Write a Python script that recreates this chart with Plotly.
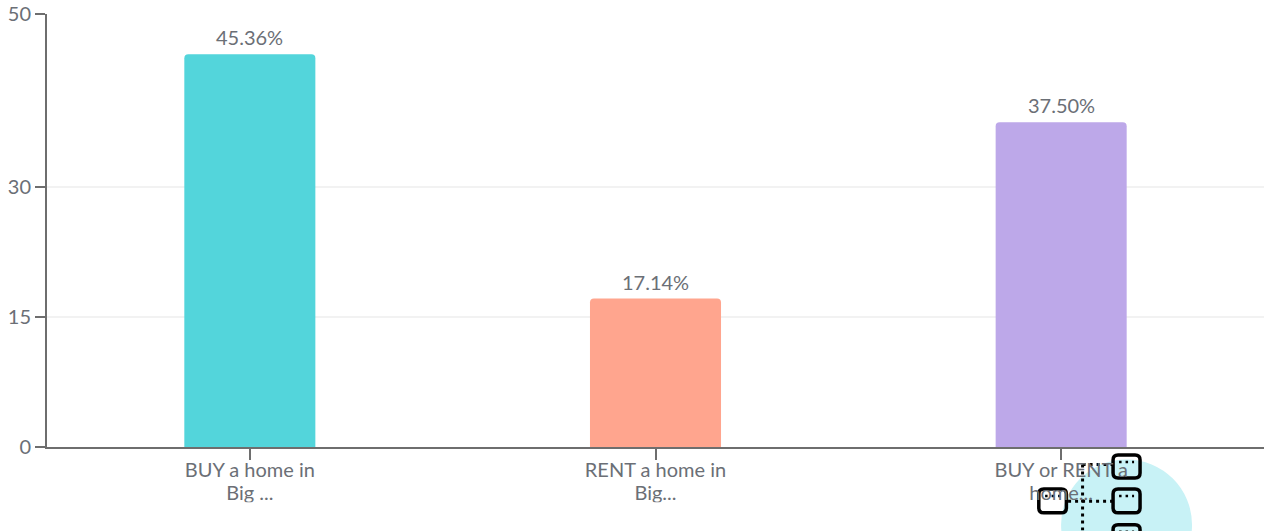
import plotly.graph_objects as go

categories = ["BUY a home in<br>Big ...", "RENT a home in<br>Big...", "BUY or RENT a<br>home..."]
values = [45.36, 17.14, 37.50]
labels = ["45.36%", "17.14%", "37.50%"]
colors = ["#53D5DB", "#FFA58E", "#BDA8E9"]
y_ticks = [0, 15, 30, 50]

W, H = 1276, 531
L, R, T, B = 46.5, 12, 13.5, 83.5
TEXT = "#6B6F76"
AXIS = "#6E6E6E"
FONT = "Lato"


def px(x):
    return (x - L) / (W - L - R)


def py(y):
    return 1 - (y - T) / (H - T - B)


def rounded(x0, y0, x1, y1, r=5):
    pts = [
        ("M", x0 + r, y0), ("L", x1 - r, y0), ("Q", x1, y0, x1, y0 + r),
        ("L", x1, y1 - r), ("Q", x1, y1, x1 - r, y1), ("L", x0 + r, y1),
        ("Q", x0, y1, x0, y1 - r), ("L", x0, y0 + r), ("Q", x0, y0, x0 + r, y0),
    ]
    out = []
    for p in pts:
        coords = p[1:]
        seg = []
        for i in range(0, len(coords), 2):
            seg.append(f"{px(coords[i]):.5f},{py(coords[i + 1]):.5f}")
        out.append(p[0] + " ".join(seg))
    return " ".join(out) + " Z"


fig = go.Figure(go.Bar(
    x=categories, y=values, marker=dict(color=colors, line_width=0),
    cliponaxis=False, hoverinfo="skip",
))

shapes = []
# crop below the category labels of the first two bars
shapes.append(dict(type="rect", xref="paper", yref="paper", x0=px(150), x1=px(800),
                   y0=py(503), y1=py(H), fillcolor="white", line_width=0, layer="above"))
# circle
shapes.append(dict(type="circle", xref="paper", yref="paper", x0=px(1061), x1=px(1192),
                   y0=py(460), y1=py(591), fillcolor="#C8F2F6", line_width=0, layer="below"))
# dotted connectors
for (a, b, c, d) in [(1082.5, 465, 1082.5, 531), (1068, 502, 1112, 502), (1082.5, 465, 1112, 465)]:
    shapes.append(dict(type="line", xref="paper", yref="paper", x0=px(a), y0=py(b), x1=px(c), y1=py(d),
                       line=dict(color="black", width=3, dash="3px,4px"), layer="below"))
# boxes
for (x0, y0, x1, y1) in [(1113, 455.5, 1140, 478.5), (1113, 489.5, 1140, 513.5),
                         (1113, 525.5, 1140, 549), (1038.7, 489.5, 1066.3, 513.5)]:
    shapes.append(dict(type="path", xref="paper", yref="paper", path=rounded(x0, y0, x1, y1),
                       fillcolor="rgba(0,0,0,0)", line=dict(color="black", width=3.5), layer="below"))
    cx = (x0 + x1) / 2
    shapes.append(dict(type="line", xref="paper", yref="paper", x0=px(cx - 7.5), x1=px(cx + 7.5),
                       y0=py(y0 + 7), y1=py(y0 + 7),
                       line=dict(color="black", width=2.5, dash="2.5px,4px"), layer="below"))

annotations = [
    dict(x=c, y=v, text=t, xref="x", yref="y", showarrow=False, yanchor="bottom", yshift=3,
         font=dict(family=FONT, size=20, color=TEXT))
    for c, v, t in zip(categories, values, labels)
]

tick_text = ["<br>".join(f'<span style="font-size:20px">{ln}</span>' for ln in c.split("<br>")) for c in categories]

fig.update_layout(
    width=W, height=H, margin=dict(l=L, r=R, t=T, b=B, autoexpand=False),
    paper_bgcolor="white", plot_bgcolor="rgba(0,0,0,0)",
    bargap=0.677, barcornerradius=4, showlegend=False,
    font=dict(family=FONT, size=20, color=TEXT),
    shapes=shapes, annotations=annotations,
    xaxis=dict(showline=True, linecolor=AXIS, linewidth=2, ticks="outside", ticklen=11,
               tickcolor=AXIS, tickwidth=2, showgrid=False, tickangle=0,
               tickmode="array", tickvals=categories, ticktext=tick_text, ticklabelstandoff=-5,
               tickfont=dict(family=FONT, size=18, color=TEXT), fixedrange=True),
    yaxis=dict(range=[0, 50], tickvals=y_ticks, showline=True, linecolor=AXIS, linewidth=2,
               ticks="outside", ticklen=10, tickcolor=AXIS, tickwidth=2,
               gridcolor="#F2F2F2", gridwidth=1.5, zeroline=False,
               tickfont=dict(family=FONT, size=20, color=TEXT), fixedrange=True),
)

fig.write_html("out.html", config={"displayModeBar": False},
               post_script="document.body.style.margin='0';document.body.style.overflow='hidden';")
